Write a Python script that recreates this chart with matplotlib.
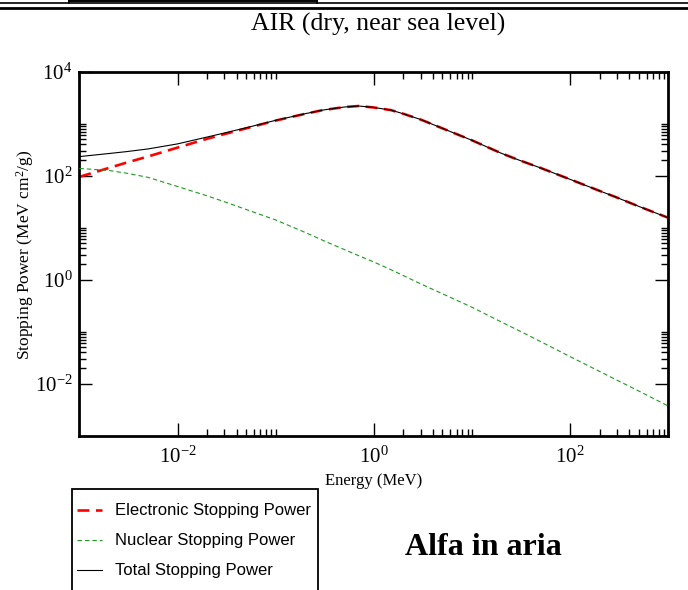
import math
import matplotlib
matplotlib.use("Agg")
import matplotlib.pyplot as plt
from matplotlib.ticker import FixedLocator, FuncFormatter, NullFormatter
from matplotlib.lines import Line2D
from matplotlib.patches import Rectangle

# ---------------- data ----------------
energy_mev = [1e-3, 2e-3, 3e-3, 5e-3, 0.01, 0.02, 0.03, 0.05, 0.1, 0.2, 0.3,
              0.5, 0.7, 1.0, 1.5, 2.0, 3.0, 5.0, 10.0, 20.0, 30.0, 50.0,
              100.0, 200.0, 300.0, 500.0, 1000.0]
electronic = [95, 141, 178, 234, 347, 513, 631, 813, 1148, 1549, 1820,
              2089, 2188, 2050, 1820, 1549, 1202, 813, 479, 269, 200, 141,
              85, 51, 38, 25.7, 15.5]
nuclear = [138, 126, 112, 93, 62, 41, 31.6, 22.4, 14.1, 8.1, 5.75,
           3.8, 2.9, 2.19, 1.55, 1.20, 0.83, 0.537, 0.295, 0.153, 0.105,
           0.0646, 0.0331, 0.0172, 0.0117, 0.00724, 0.00372]
total = [233, 267, 290, 327, 409, 554, 663, 835, 1162, 1557, 1826,
         2093, 2191, 2052, 1822, 1550, 1203, 814, 479, 269, 200, 141,
         85, 51, 38, 25.7, 15.5]

series_labels = ["Electronic Stopping Power", "Nuclear Stopping Power",
                 "Total Stopping Power"]
title_text = "AIR (dry, near sea level)"
xlabel_text = "Energy (MeV)"
ylabel_text = r"Stopping Power (MeV cm$^{2}$/g)"
note_text = "Alfa in aria"
x_major = [1e-2, 1e0, 1e2]
y_major = [1e-2, 1e0, 1e2, 1e4]

# ---------------- style ----------------
plt.rcParams["font.family"] = ["Liberation Serif", "DejaVu Serif"]
plt.rcParams["mathtext.fontset"] = "custom"
plt.rcParams["mathtext.rm"] = "Liberation Serif"
plt.rcParams["mathtext.it"] = "Liberation Serif:italic"
plt.rcParams["mathtext.bf"] = "Liberation Serif:bold"

W, H = 688, 590
fig = plt.figure(figsize=(W / 100, H / 100), dpi=100)

def fx(px):
    return px / W

def fy(py):
    return 1 - py / H

ax = fig.add_axes([fx(79.4), fy(435.7), fx(668.3) - fx(79.4), fy(71.7) - fy(435.7)])

red = "#ff0000"
green = "#1e9a1e"
el_dash = (4.5, 2.5)
nu_dash = (4, 2.7)
l_el, = ax.plot(energy_mev, electronic, color=red, lw=1.9, dashes=el_dash,
                label=series_labels[0], zorder=2)
l_nu, = ax.plot(energy_mev, nuclear, color=green, lw=0.8, dashes=nu_dash,
                label=series_labels[1], zorder=3)
l_to, = ax.plot(energy_mev, total, color="black", lw=0.8,
                label=series_labels[2], zorder=4)

ax.set_xscale("log")
ax.set_yscale("log")
ax.set_xlim(1e-3, 1e3)
ax.set_ylim(1e-3, 1e4)

def minor_positions(exps):
    return [k * 10.0 ** e for e in exps for k in range(2, 11)]

ax.xaxis.set_major_locator(FixedLocator(x_major))
ax.yaxis.set_major_locator(FixedLocator(y_major))
ax.xaxis.set_minor_locator(FixedLocator(minor_positions([-2, 0, 2])))
ax.yaxis.set_minor_locator(FixedLocator(minor_positions([-2, 0, 2])))

def pow_fmt(v, pos):
    e = int(round(math.log10(v)))
    return r"$\mathregular{10^{%d}}$" % e

ax.xaxis.set_major_formatter(FuncFormatter(pow_fmt))
ax.yaxis.set_major_formatter(FuncFormatter(pow_fmt))
ax.xaxis.set_minor_formatter(NullFormatter())
ax.yaxis.set_minor_formatter(NullFormatter())

ax.tick_params(which="both", direction="in", top=True, right=True,
               colors="black", width=1.0)
ax.tick_params(which="major", length=9.5, labelsize=15)
ax.tick_params(which="minor", length=5)
ax.tick_params(axis="x", which="major", pad=8)
ax.tick_params(axis="y", which="major", pad=5)
for s in ax.spines.values():
    s.set_linewidth(2.0)

fig.text(fx(374), fy(481), xlabel_text, ha="center", va="center", fontsize=12)
fig.text(fx(25), fy(255), ylabel_text, ha="center", va="center",
         rotation=90, fontsize=12.5)
fig.text(fx(378.5), fy(31), title_text, ha="center", va="baseline",
         fontsize=18.5)
fig.text(fx(483.5), fy(555), note_text, ha="center", va="baseline",
         fontsize=23, fontweight="bold")

# ---------------- header rules (page fragment at top) ----------------
fig.add_artist(Line2D([0, 1], [fy(2.5), fy(2.5)], color="black", lw=1.2,
                      transform=fig.transFigure))
fig.add_artist(Line2D([0, 1], [fy(7.5), fy(7.5)], color="black", lw=2.0,
                      transform=fig.transFigure))
fig.add_artist(Line2D([fx(69), fx(317)], [fy(1.2), fy(1.2)], color="black",
                      lw=1.4, transform=fig.transFigure))
for xp in (69, 317):
    fig.add_artist(Line2D([fx(xp), fx(xp)], [fy(0), fy(2.5)], color="black",
                          lw=1.2, transform=fig.transFigure))

# ---------------- legend box ----------------
fig.add_artist(Rectangle((fx(71.7), fy(620)), fx(318.3) - fx(71.7),
                         fy(489) - fy(620), fill=False, edgecolor="black",
                         lw=1.3, transform=fig.transFigure, clip_on=False))
rows = [510, 540, 570]
handle_dashes = [el_dash, nu_dash, None]
for line, lab, ry, dsh in zip([l_el, l_nu, l_to], series_labels, rows,
                              handle_dashes):
    h = Line2D([fx(77), fx(102)], [fy(ry), fy(ry)], color=line.get_color(),
               lw=line.get_linewidth(), transform=fig.transFigure)
    if dsh is not None:
        h.set_dashes(dsh)
    fig.add_artist(h)
    fig.text(fx(115), fy(ry), lab, ha="left", va="center", fontsize=12,
             family=["Liberation Sans", "DejaVu Sans"])

fig.savefig("out.png", dpi=100)
